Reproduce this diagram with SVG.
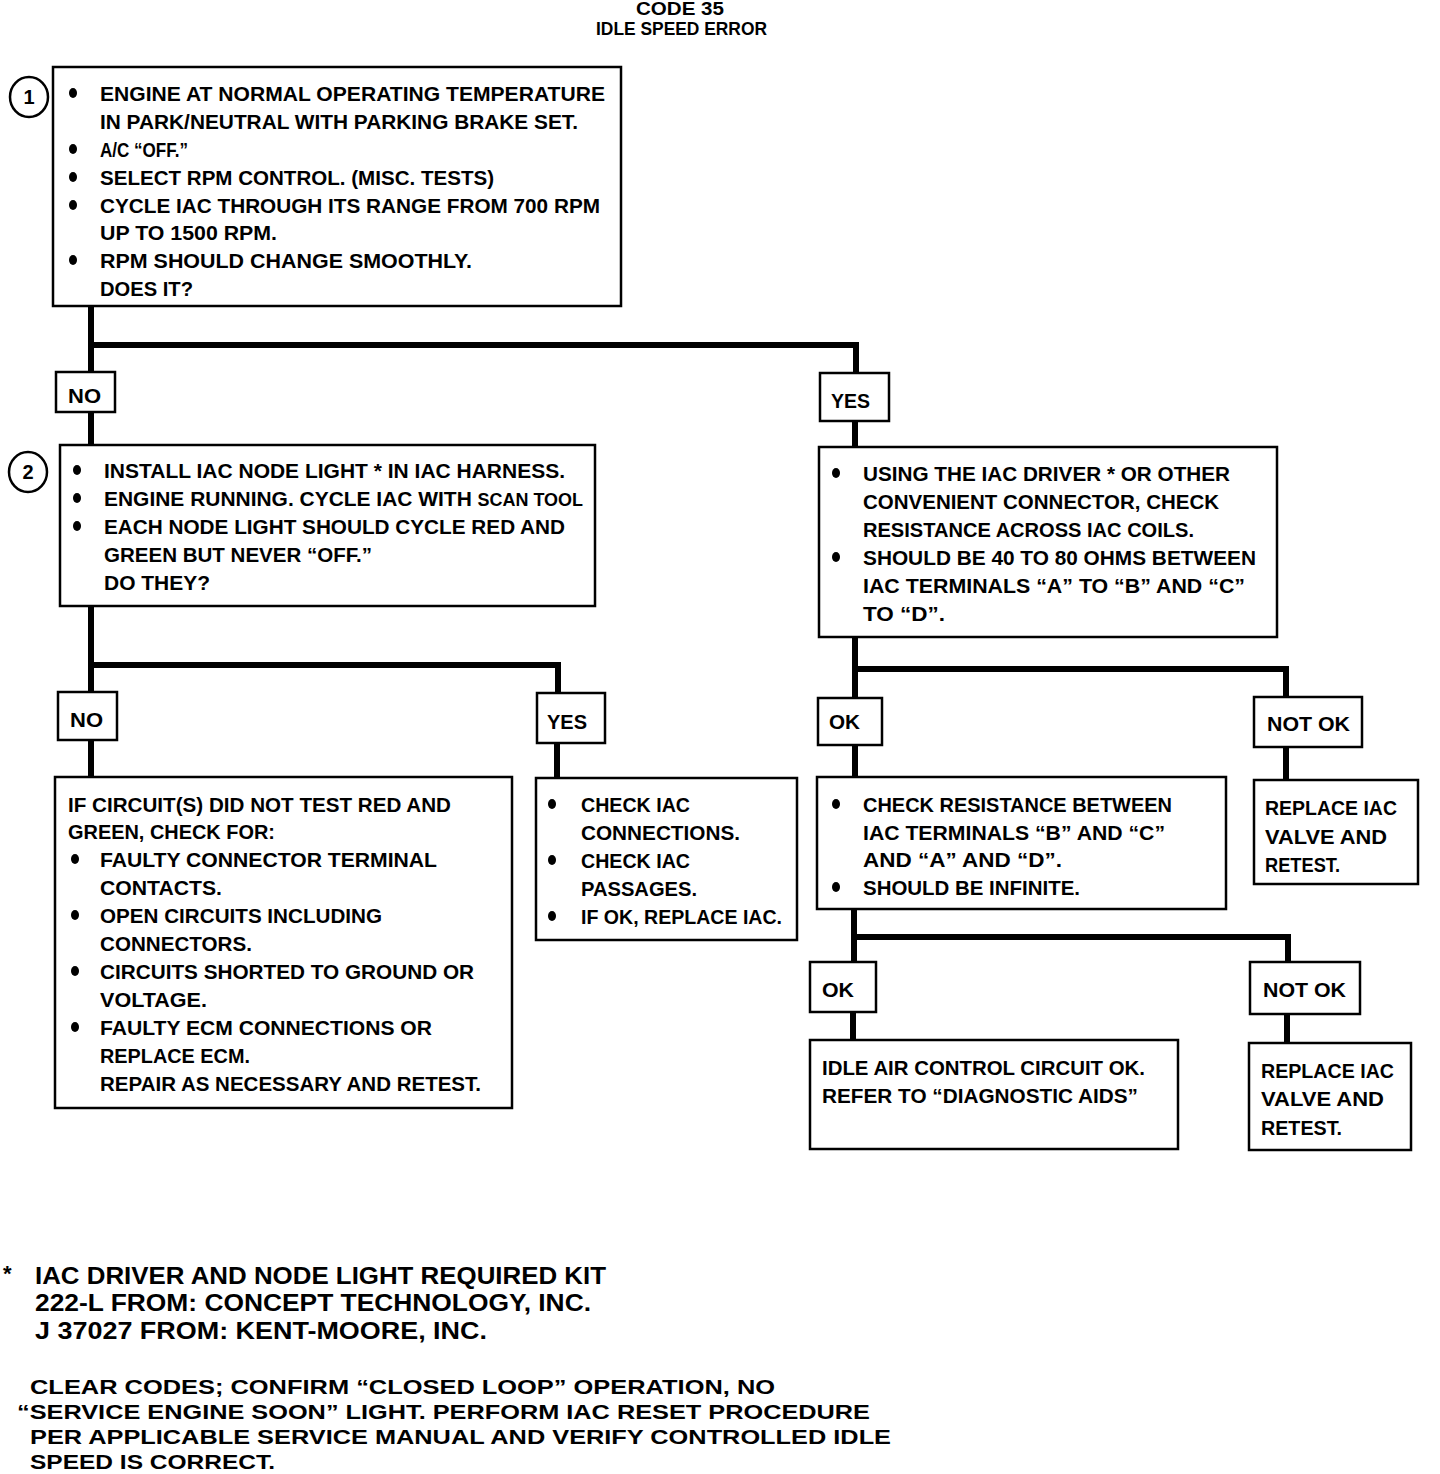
<svg xmlns="http://www.w3.org/2000/svg" width="1440" height="1474" viewBox="0 0 1440 1474">
<style>
.box{fill:#fff;stroke:#000;stroke-width:2.5}
.conn{fill:none;stroke:#000;stroke-width:6;stroke-linejoin:miter;stroke-linecap:butt}
text{font-family:"Liberation Sans Narrow","Liberation Sans",Arial,sans-serif;font-weight:bold;font-size:21px;fill:#000}
.ttl{font-family:"Liberation Sans",Arial,sans-serif;font-size:18px}
.ft{font-size:24px}
.ft2{font-size:21px}
.dot{fill:#000}
</style>
<defs>
<ellipse id="b" class="dot" rx="4" ry="5"/>
</defs>
<rect width="1440" height="1474" fill="#fff"/>

<g id="title">
<text class="ttl" x="636" y="15" textLength="88" lengthAdjust="spacingAndGlyphs">CODE 35</text>
<text class="ttl" x="596" y="35" textLength="171" lengthAdjust="spacingAndGlyphs">IDLE SPEED ERROR</text>
</g>

<g id="connectors">
<path class="conn" d="M91,306 V372 M91,372 V345 H856 V373"/>
<path class="conn" d="M91,412 V445 M855,421 V447"/>
<path class="conn" d="M91,606 V692 M91,692 V665 H558 V693"/>
<path class="conn" d="M91,740 V777 M557,743 V778"/>
<path class="conn" d="M855,637 V698 M855,698 V669 H1286 V697"/>
<path class="conn" d="M855,745 V777 M1286,747 V780"/>
<path class="conn" d="M854,909 V962 M854,962 V937 H1288 V962"/>
<path class="conn" d="M853,1012 V1040 M1287,1014 V1043"/>
</g>

<g id="step1-marker">
<ellipse class="box" cx="29" cy="97" rx="19" ry="20"/>
<text x="29" y="104" text-anchor="middle" style="font-size:20px">1</text>
</g>

<g id="box1">
<rect class="box" x="53" y="67" width="568" height="239"/>
<use href="#b" x="73" y="93"/>
<use href="#b" x="73" y="149"/>
<use href="#b" x="73" y="177"/>
<use href="#b" x="73" y="205"/>
<use href="#b" x="73" y="260"/>
<text x="100" y="101" textLength="505" lengthAdjust="spacingAndGlyphs">ENGINE AT NORMAL OPERATING TEMPERATURE</text>
<text x="100" y="129" textLength="478" lengthAdjust="spacingAndGlyphs">IN PARK/NEUTRAL WITH PARKING BRAKE SET.</text>
<text x="100" y="157" textLength="88" lengthAdjust="spacingAndGlyphs">A/C “OFF.”</text>
<text x="100" y="185" textLength="394" lengthAdjust="spacingAndGlyphs">SELECT RPM CONTROL.  (MISC. TESTS)</text>
<text x="100" y="213" textLength="500" lengthAdjust="spacingAndGlyphs">CYCLE IAC THROUGH ITS RANGE FROM 700 RPM</text>
<text x="100" y="240" textLength="177" lengthAdjust="spacingAndGlyphs">UP TO 1500 RPM.</text>
<text x="100" y="268" textLength="372" lengthAdjust="spacingAndGlyphs">RPM SHOULD CHANGE SMOOTHLY.</text>
<text x="100" y="296" textLength="93" lengthAdjust="spacingAndGlyphs">DOES IT?</text>
</g>

<g id="no1">
<rect class="box" x="56" y="372" width="59" height="40"/>
<text x="68" y="403" textLength="33" lengthAdjust="spacingAndGlyphs">NO</text>
</g>
<g id="yes1">
<rect class="box" x="820" y="373" width="69" height="48"/>
<text x="831" y="408" textLength="39" lengthAdjust="spacingAndGlyphs">YES</text>
</g>

<g id="step2-marker">
<ellipse class="box" cx="28" cy="472" rx="19" ry="20"/>
<text x="28" y="479" text-anchor="middle" style="font-size:20px">2</text>
</g>

<g id="box2">
<rect class="box" x="60" y="445" width="535" height="161"/>
<use href="#b" x="77" y="470"/>
<use href="#b" x="77" y="498"/>
<use href="#b" x="77" y="526"/>
<text x="104" y="478" textLength="461" lengthAdjust="spacingAndGlyphs">INSTALL IAC NODE LIGHT * IN IAC HARNESS.</text>
<text x="104" y="506" textLength="479" lengthAdjust="spacingAndGlyphs">ENGINE RUNNING.  CYCLE IAC WITH <tspan style="font-size:18px">SCAN TOOL</tspan></text>
<text x="104" y="534" textLength="461" lengthAdjust="spacingAndGlyphs">EACH NODE LIGHT SHOULD CYCLE RED AND</text>
<text x="104" y="562" textLength="268" lengthAdjust="spacingAndGlyphs">GREEN BUT NEVER “OFF.”</text>
<text x="104" y="590" textLength="106" lengthAdjust="spacingAndGlyphs">DO THEY?</text>
</g>

<g id="box3">
<rect class="box" x="819" y="447" width="458" height="190"/>
<use href="#b" x="836" y="473"/>
<use href="#b" x="836" y="557"/>
<text x="863" y="481" textLength="367" lengthAdjust="spacingAndGlyphs">USING THE IAC DRIVER * OR OTHER</text>
<text x="863" y="509" textLength="356" lengthAdjust="spacingAndGlyphs">CONVENIENT CONNECTOR, CHECK</text>
<text x="863" y="537" textLength="331" lengthAdjust="spacingAndGlyphs">RESISTANCE ACROSS IAC COILS.</text>
<text x="863" y="565" textLength="393" lengthAdjust="spacingAndGlyphs">SHOULD BE 40 TO 80 OHMS BETWEEN</text>
<text x="863" y="593" textLength="382" lengthAdjust="spacingAndGlyphs">IAC TERMINALS “A” TO “B” AND “C”</text>
<text x="863" y="621" textLength="82" lengthAdjust="spacingAndGlyphs">TO “D”.</text>
</g>

<g id="no2">
<rect class="box" x="58" y="692" width="59" height="48"/>
<text x="70" y="727" textLength="33" lengthAdjust="spacingAndGlyphs">NO</text>
</g>
<g id="yes2">
<rect class="box" x="537" y="693" width="68" height="50"/>
<text x="547" y="729" textLength="40" lengthAdjust="spacingAndGlyphs">YES</text>
</g>
<g id="ok1">
<rect class="box" x="818" y="698" width="64" height="47"/>
<text x="829" y="729" textLength="31" lengthAdjust="spacingAndGlyphs">OK</text>
</g>
<g id="notok1">
<rect class="box" x="1254" y="697" width="108" height="50"/>
<text x="1267" y="731" textLength="83" lengthAdjust="spacingAndGlyphs">NOT OK</text>
</g>

<g id="box4">
<rect class="box" x="55" y="777" width="457" height="331"/>
<use href="#b" x="75" y="859"/>
<use href="#b" x="75" y="915"/>
<use href="#b" x="75" y="971"/>
<use href="#b" x="75" y="1027"/>
<text x="68" y="812" textLength="383" lengthAdjust="spacingAndGlyphs">IF CIRCUIT(S) DID NOT TEST RED AND</text>
<text x="68" y="839" textLength="207" lengthAdjust="spacingAndGlyphs">GREEN, CHECK FOR:</text>
<text x="100" y="867" textLength="337" lengthAdjust="spacingAndGlyphs">FAULTY CONNECTOR TERMINAL</text>
<text x="100" y="895" textLength="122" lengthAdjust="spacingAndGlyphs">CONTACTS.</text>
<text x="100" y="923" textLength="282" lengthAdjust="spacingAndGlyphs">OPEN CIRCUITS INCLUDING</text>
<text x="100" y="951" textLength="152" lengthAdjust="spacingAndGlyphs">CONNECTORS.</text>
<text x="100" y="979" textLength="374" lengthAdjust="spacingAndGlyphs">CIRCUITS SHORTED TO GROUND OR</text>
<text x="100" y="1007" textLength="107" lengthAdjust="spacingAndGlyphs">VOLTAGE.</text>
<text x="100" y="1035" textLength="332" lengthAdjust="spacingAndGlyphs">FAULTY ECM CONNECTIONS OR</text>
<text x="100" y="1063" textLength="150" lengthAdjust="spacingAndGlyphs">REPLACE ECM.</text>
<text x="100" y="1091" textLength="381" lengthAdjust="spacingAndGlyphs">REPAIR AS NECESSARY AND RETEST.</text>
</g>

<g id="box5">
<rect class="box" x="536" y="778" width="261" height="162"/>
<use href="#b" x="552" y="804"/>
<use href="#b" x="552" y="860"/>
<use href="#b" x="552" y="916"/>
<text x="581" y="812" textLength="109" lengthAdjust="spacingAndGlyphs">CHECK IAC</text>
<text x="581" y="840" textLength="159" lengthAdjust="spacingAndGlyphs">CONNECTIONS.</text>
<text x="581" y="868" textLength="109" lengthAdjust="spacingAndGlyphs">CHECK IAC</text>
<text x="581" y="896" textLength="116" lengthAdjust="spacingAndGlyphs">PASSAGES.</text>
<text x="581" y="924" textLength="201" lengthAdjust="spacingAndGlyphs">IF OK, REPLACE IAC.</text>
</g>

<g id="box6">
<rect class="box" x="817" y="777" width="409" height="132"/>
<use href="#b" x="836" y="804"/>
<use href="#b" x="836" y="887"/>
<text x="863" y="812" textLength="309" lengthAdjust="spacingAndGlyphs">CHECK RESISTANCE BETWEEN</text>
<text x="863" y="840" textLength="302" lengthAdjust="spacingAndGlyphs">IAC TERMINALS “B” AND “C”</text>
<text x="863" y="867" textLength="199" lengthAdjust="spacingAndGlyphs">AND “A” AND “D”.</text>
<text x="863" y="895" textLength="217" lengthAdjust="spacingAndGlyphs">SHOULD BE INFINITE.</text>
</g>

<g id="box7">
<rect class="box" x="1254" y="780" width="164" height="104"/>
<text x="1265" y="815" textLength="132" lengthAdjust="spacingAndGlyphs">REPLACE IAC</text>
<text x="1265" y="844" textLength="122" lengthAdjust="spacingAndGlyphs">VALVE AND</text>
<text x="1265" y="872" textLength="75" lengthAdjust="spacingAndGlyphs">RETEST.</text>
</g>

<g id="ok2">
<rect class="box" x="810" y="962" width="66" height="50"/>
<text x="822" y="997" textLength="32" lengthAdjust="spacingAndGlyphs">OK</text>
</g>
<g id="notok2">
<rect class="box" x="1250" y="962" width="110" height="52"/>
<text x="1263" y="997" textLength="83" lengthAdjust="spacingAndGlyphs">NOT OK</text>
</g>

<g id="box8">
<rect class="box" x="810" y="1040" width="368" height="109"/>
<text x="822" y="1075" textLength="323" lengthAdjust="spacingAndGlyphs">IDLE AIR CONTROL CIRCUIT OK.</text>
<text x="822" y="1103" textLength="316" lengthAdjust="spacingAndGlyphs">REFER TO “DIAGNOSTIC AIDS”</text>
</g>

<g id="box9">
<rect class="box" x="1249" y="1043" width="162" height="107"/>
<text x="1261" y="1078" textLength="133" lengthAdjust="spacingAndGlyphs">REPLACE IAC</text>
<text x="1261" y="1106" textLength="123" lengthAdjust="spacingAndGlyphs">VALVE AND</text>
<text x="1261" y="1135" textLength="81" lengthAdjust="spacingAndGlyphs">RETEST.</text>
</g>

<g id="footnote">
<text class="ft" x="3" y="1281" style="font-size:22px">*</text>
<text class="ft" x="35" y="1284" textLength="571" lengthAdjust="spacingAndGlyphs">IAC DRIVER AND NODE LIGHT REQUIRED KIT</text>
<text class="ft" x="35" y="1311" textLength="556" lengthAdjust="spacingAndGlyphs">222-L FROM:  CONCEPT TECHNOLOGY, INC.</text>
<text class="ft" x="35" y="1339" textLength="452" lengthAdjust="spacingAndGlyphs">J 37027 FROM:  KENT-MOORE, INC.</text>
<text class="ft2" x="30" y="1394" textLength="745" lengthAdjust="spacingAndGlyphs">CLEAR CODES; CONFIRM “CLOSED LOOP” OPERATION, NO</text>
<text class="ft2" x="17" y="1419" textLength="853" lengthAdjust="spacingAndGlyphs">“SERVICE ENGINE SOON” LIGHT. PERFORM IAC RESET PROCEDURE</text>
<text class="ft2" x="30" y="1444" textLength="861" lengthAdjust="spacingAndGlyphs">PER APPLICABLE SERVICE MANUAL AND VERIFY CONTROLLED IDLE</text>
<text class="ft2" x="30" y="1469" textLength="245" lengthAdjust="spacingAndGlyphs">SPEED IS CORRECT.</text>
</g>
</svg>
